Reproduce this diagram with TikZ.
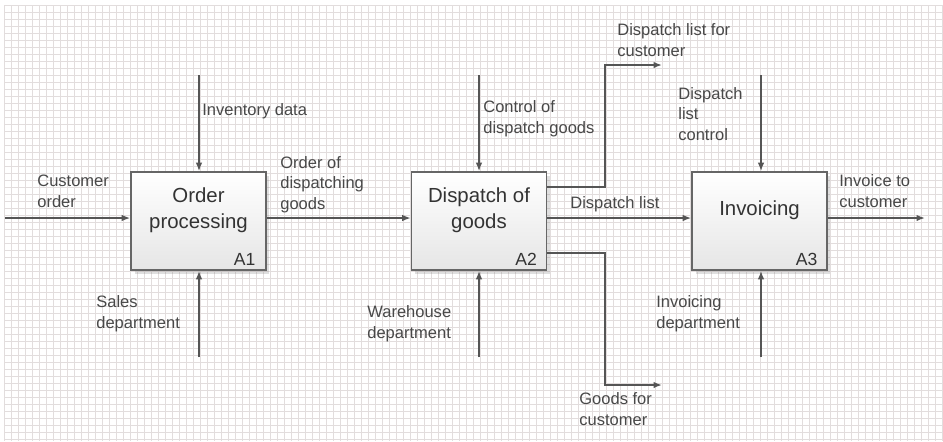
\documentclass[tikz,border=0pt]{standalone}
\usepackage{fontspec}
\setmainfont{Liberation Sans}
\usetikzlibrary{arrows.meta, shadows, calc}
\definecolor{linegray}{RGB}{85,85,85}
\definecolor{textgray}{RGB}{72,72,72}
\definecolor{gridgray}{RGB}{226,221,221}

\begin{document}
\begin{tikzpicture}[x=0.02cm, y=-0.02cm,
    arr/.style={draw=linegray, line width=0.9pt, -{Latex[length=1.7mm,width=1.3mm]}},
    fnbox/.style={draw=black!60, line width=0.9pt, top color=white, bottom color=black!10,
        minimum width=2.7cm, minimum height=1.96cm,
        drop shadow={shadow xshift=0.7mm, shadow yshift=-0.7mm, opacity=0.25}},
    fntext/.style={align=center, inner sep=0pt, text=black!80, font=\fontsize{11.6}{14.7}\selectfont},
    fnnum/.style={anchor=base east, inner sep=0pt, text=black!80, font=\fontsize{10}{12}\selectfont},
    lbl/.style={anchor=base west, align=left, inner sep=0pt, text=textgray, font=\fontsize{9.4}{11.4}\selectfont}]
\useasboundingbox (0,0) rectangle (943,441);
\fill[white] (0,0) rectangle (943,441);
\foreach \gx in {4,11,...,942} {
    \draw[gridgray, line width=0.5pt] (\gx,5) -- (\gx,441);
}
\foreach \gy in {5,12,...,441} {
    \draw[gridgray, line width=0.5pt] (4,\gy) -- (943,\gy);
}

\node[fnbox] (A1) at (198.5,221) {};
\node[fnbox] (A2) at (479,221) {};
\node[fnbox] (A3) at (759.5,221) {};
\node[fntext] (t1) at ($(A1)+(0,-10.5)$) {Order\\processing};
\node[fntext] (t2) at ($(A2)+(0,-10.5)$) {Dispatch of\\goods};
\node[fntext] (t3) at ($(A3)+(0,-10.5)$) {Invoicing};
\node[fnnum] (n1) at ($(A1.south east)+(-11,-5)$) {A1};
\node[fnnum] (n2) at ($(A2.south east)+(-10,-5)$) {A2};
\node[fnnum] (n3) at ($(A3.south east)+(-10,-5)$) {A3};

\coordinate (cin) at (5,218);
\coordinate (iout) at (925,218);
\coordinate (c1) at (199,75);
\coordinate (c2) at (479,75);
\coordinate (c3) at (761,75);
\coordinate (m1) at (199,357);
\coordinate (m2) at (479,357);
\coordinate (m3) at (761,357);
\coordinate (o1) at (662,65);
\coordinate (o2) at (662,385);

\draw[arr] (cin) -- (cin -| A1.west);
\draw[arr] (A1.east |- cin) -- (A2.west |- cin);
\draw[arr] (A2.east |- cin) -- (A3.west |- cin);
\draw[arr] (A3.east |- cin) -- (iout);
\draw[arr] (c1) -- (c1 |- A1.north);
\draw[arr] (c2) -- (c2 |- A2.north);
\draw[arr] (c3) -- (c3 |- A3.north);
\draw[arr] (m1) -- (m1 |- A1.south);
\draw[arr] (m2) -- (m2 |- A2.south);
\draw[arr] (m3) -- (m3 |- A3.south);
\draw[arr] (A2.east |- 0,187) -- (605,187) |- (o1);
\draw[arr] (A2.east |- 0,253) -- (605,253) |- (o2);

\node[lbl] (l1) at (37,207) {Customer\\order};
\node[lbl] (l2) at (202,115) {Inventory data};
\node[lbl] (l3) at (280,209) {Order of\\dispatching\\goods};
\node[lbl] (l4) at (96,328) {Sales\\department};
\node[lbl] (l5) at (483,133) {Control of\\dispatch goods};
\node[lbl] (l6) at (617,56) {Dispatch list for\\customer};
\node[lbl] (l7) at (570,208) {Dispatch list};
\node[lbl] (l8) at (367,338) {Warehouse\\department};
\node[lbl] (l9) at (579,425) {Goods for\\customer};
\node[lbl] (l10) at (678,140) {Dispatch\\list\\control};
\node[lbl] (l11) at (839,207) {Invoice to\\customer};
\node[lbl] (l12) at (656,328) {Invoicing\\department};
\end{tikzpicture}
\end{document}
